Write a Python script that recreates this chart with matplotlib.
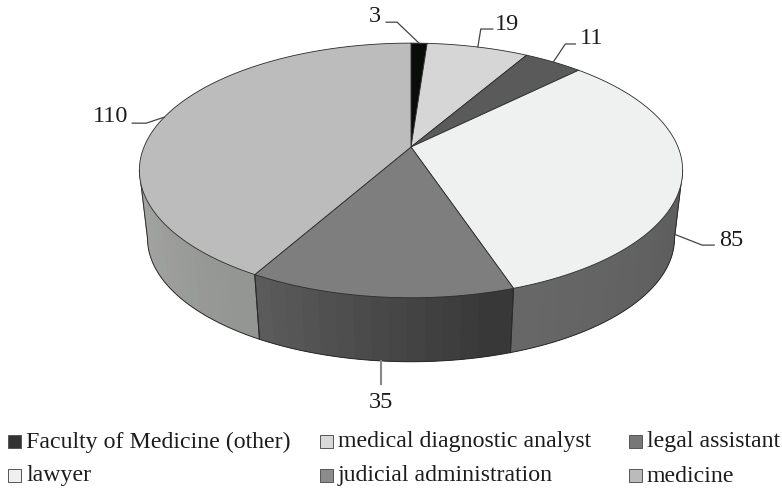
import numpy as np
import matplotlib
matplotlib.use('Agg')
import matplotlib.pyplot as plt
from matplotlib.patches import Polygon, Rectangle

categories = ['Faculty of Medicine (other)', 'medical diagnostic analyst', 'legal assistant',
              'lawyer', 'judicial administration', 'medicine']
values = [3, 19, 11, 85, 35, 110]
top_colors = ['#0a0c0a', '#d6d6d6', '#5a5a5a', '#eff1f0', '#7e7e7e', '#bcbcbc']
side_left = ['#0a0c0a', '#d6d6d6', '#5a5a5a', '#686868', '#5f5f5f', '#a8a9a7']
side_right = ['#0a0c0a', '#d6d6d6', '#5a5a5a', '#5c5c5c', '#363736', '#939593']
legend_colors = ['#333333', '#d9d9d9', '#777777', '#f0f0f0', '#8c8c8c', '#bbbbbb']

# pixel layout of the tilted pie
CX, CY = 411.0, 147.0
RX, RY = 267.0, 123.0
K = 0.184
DEPTH = 68.5
SHRINK = 0.97
FONT = 'Liberation Serif'
EDGE = '#2a2a2a'


def top_pt(deg):
    t = np.radians(deg)
    d = 1 + K * np.cos(t)
    return CX + RX * np.sin(t) / d, CY - RY * np.cos(t) / d


def low_pt(deg):
    t = np.radians(deg)
    d = 1 + K * np.cos(t)
    return CX + SHRINK * RX * np.sin(t) / d, CY + DEPTH - SHRINK * RY * np.cos(t) / d


def arc(fn, a, b, n=120):
    xs, ys = fn(np.linspace(a, b, n))
    return np.column_stack([xs, ys])


fig = plt.figure(figsize=(7.82, 4.88), dpi=100)
ax = fig.add_axes([0, 0, 1, 1])
ax.set_xlim(0, 782)
ax.set_ylim(488, 0)
ax.axis('off')

total = float(sum(values))
edges = np.concatenate([[0], np.cumsum(values)]) / total * 360.0
sil_r = np.degrees(np.arccos(-K))
sil_l = 360.0 - sil_r

# side wall, front part only
for i in range(len(values)):
    a = max(edges[i], sil_r)
    b = min(edges[i + 1], sil_l)
    if b <= a:
        continue
    n = max(int((b - a) / 3), 1)
    steps = np.linspace(a, b, n + 1)
    c0 = np.array(matplotlib.colors.to_rgb(side_left[i]))
    c1 = np.array(matplotlib.colors.to_rgb(side_right[i]))
    # plain base under the strips so no white shows through their seams
    base = np.vstack([arc(top_pt, a, b), arc(low_pt, b, a)])
    ax.add_patch(Polygon(base, closed=True, fc=(c0 + c1) / 2, ec='none', zorder=1.5))
    for j in range(n):
        # the gradient runs left to right on screen, angle grows right to left
        f = 1 - (j + 0.5) / n
        col = c0 + (c1 - c0) * f
        # each strip overlaps the next one a little
        hi = steps[min(j + 2, n)]
        pts = np.vstack([arc(top_pt, steps[j], hi, 6), arc(low_pt, hi, steps[j], 6)])
        ax.add_patch(Polygon(pts, closed=True, fc=col, ec='none', zorder=2 + (n - j) * 0.001))
    ax.plot(*arc(low_pt, a, b).T, color=EDGE, lw=0.7, zorder=3)
    for ang in (a, b):
        x0, y0 = top_pt(ang)
        x1, y1 = low_pt(ang)
        ax.plot([x0, x1], [y0, y1], color=EDGE, lw=0.7, zorder=3)

# top face
for i in range(len(values)):
    pts = np.vstack([[CX, CY], arc(top_pt, edges[i], edges[i + 1])])
    ax.add_patch(Polygon(pts, closed=True, fc=top_colors[i], ec=EDGE, lw=0.6, zorder=4, joinstyle='round'))

# value labels and leader lines: anchor surface, elbow offset, run, text position, line colour, width
mids = (edges[:-1] + edges[1:]) / 2
leaders = [('top', (-22, -21), -11, (375, 17), '#444444', 0.9),
           ('top', (3, -18), 12, (507, 24), '#444444', 0.9),
           ('top', (12, -18), 10, (592, 38), '#444444', 0.9),
           ('side', (28, 11), 12, (731, 240), '#444444', 0.9),
           ('low', (0, 23), 0, (381, 402), '#888888', 1.5),
           ('top', (-18, 6), -14, (111, 117), '#444444', 0.9)]
for i, (surf, off, run, pos, lc, lw) in enumerate(leaders):
    if surf == 'top':
        x0, y0 = top_pt(mids[i])
    elif surf == 'low':
        x0, y0 = low_pt(mids[i])
    else:
        xt, yt = top_pt(mids[i])
        xl, yl = low_pt(mids[i])
        x0, y0 = xl, yt + 0.85 * (yl - yt)
    x1, y1 = x0 + off[0], y0 + off[1]
    ax.plot([x0, x1, x1 + run], [y0, y1, y1], color=lc, lw=lw, zorder=3.5 if surf == 'low' else 5)
    ax.text(pos[0], pos[1], str(values[i]), family=FONT, fontsize=17.5, color='#1c1c1c',
            ha='center', va='center', zorder=6)

# legend, laid out by hand
leg_x = [8, 320, 629]
leg_y = [441, 475]
for i, name in enumerate(categories):
    x = leg_x[i % 3]
    y = leg_y[i // 3]
    ax.add_patch(Rectangle((x, y - 6.5), 13, 13, fc=legend_colors[i], ec='#555555', lw=0.7, zorder=5))
    ax.text(x + 18, y + 1, name, family=FONT, fontsize=17.2, color='#1c1c1c', ha='left', va='center', zorder=6)

fig.savefig('out.png', dpi=100)
